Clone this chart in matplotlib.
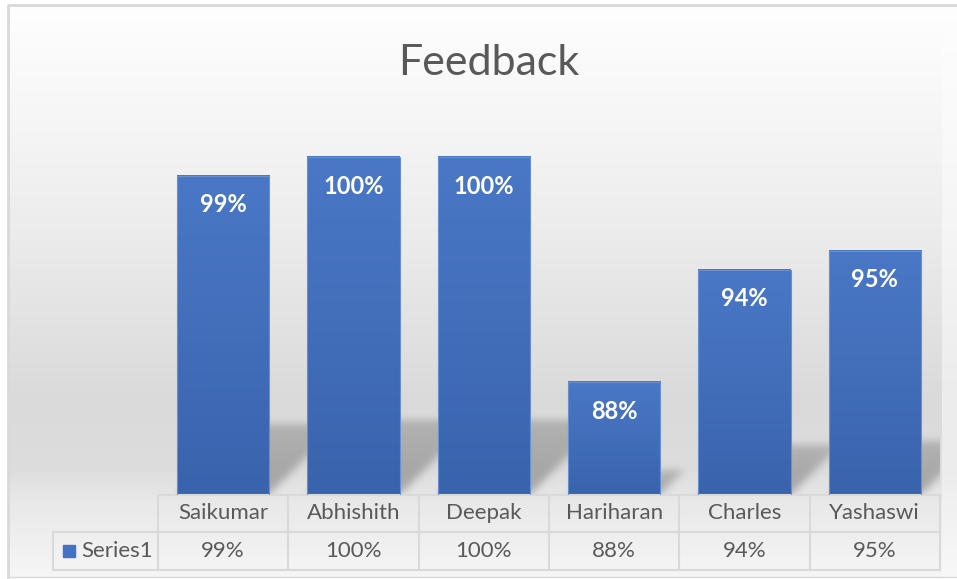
import numpy as np
import matplotlib
matplotlib.use('Agg')
import matplotlib.pyplot as plt
from matplotlib.colors import LinearSegmentedColormap
from matplotlib.transforms import blended_transform_factory

plt.rcParams['font.family'] = ['Lato', 'DejaVu Sans']

# data
names = ['Saikumar', 'Abhishith', 'Deepak', 'Hariharan', 'Charles', 'Yashaswi']
scores = [99, 100, 100, 88, 94, 95]
series_name = 'Series1'
title = 'Feedback'

W, H = 957, 579
YMIN, YMAX = 82, 102
BAR_W = 0.71

fig = plt.figure(figsize=(W / 100, H / 100), dpi=100)

# background axes in pixel coords (y from top)
bg = fig.add_axes([0, 0, 1, 1])
bg.set_xlim(0, W)
bg.set_ylim(H, 0)
bg.axis('off')

ax = fig.add_axes([158 / W, (H - 494.5) / H, 782 / W, 375 / H])
ax.patch.set_visible(False)
x = np.arange(len(names))
ax.set_xlim(-0.5, len(names) - 0.5)
ax.set_ylim(YMIN, YMAX)

# chart area gradient
yy, xx = np.mgrid[0:H, 0:W] + 0.5
stops_y = [0, 20, 120, 250, 400, 470, 500, 577, 579]
stops_g = [253, 253, 246, 234, 218, 221, 232, 246, 246]
stops_r = [253, 253, 250, 244, 236, 236, 240, 248, 248]
g_main = np.interp(yy[:, 0], stops_y, stops_g)
g_right = np.interp(yy[:, 0], stops_y, stops_r)
gray = np.repeat(g_main[:, None], W, axis=1)
gray[:, 942:] = g_right[:, None]
inside = (xx >= 8) & (yy >= 5) & (yy <= 577)
gray = np.where(inside, gray, 255) / 255.0

# perspective shadows of the bars
mask = np.zeros((H, W))
for xi, v in zip(x, scores):
    L, top = ax.transData.transform((xi - BAR_W / 2, v))
    R, bot = ax.transData.transform((xi + BAR_W / 2, YMIN))
    top, bot = H - top, H - bot
    hs = 0.22 * (bot - top)
    h = bot - yy
    sel = (h >= 0) & (h <= hs) & (xx >= L + h) & (xx <= R + h)
    mask += np.where(sel, 1 - 0.3 * h / max(hs, 1), 0)

k = np.exp(-0.5 * (np.arange(-12, 13) / 4.0) ** 2)
k /= k.sum()
mask = np.apply_along_axis(lambda r: np.convolve(r, k, mode='same'), 1, mask)
mask = np.apply_along_axis(lambda c: np.convolve(c, k, mode='same'), 0, mask)
mask[(xx < 158) | (xx > 940) | (yy > 494.5)] = 0
gray = gray * (1 - 0.27 * np.clip(mask, 0, 1))

bg.imshow(np.dstack([gray, gray, gray]), extent=[0, W, H, 0], origin='upper',
          aspect='auto', interpolation='bilinear')
bg.plot([8, 8, W], [577, 5, 5], color='#d9d9d9', lw=2)
bg.plot([8, W], [577, 577], color='#d9d9d9', lw=1)

# bars with vertical gradient
cmap = LinearSegmentedColormap.from_list('bar', ['#3a63ad', '#4a78c6'])
grad = np.linspace(1, 0, 100).reshape(-1, 1)
for xi, v in zip(x, scores):
    ax.imshow(grad, cmap=cmap, vmin=0, vmax=1, origin='upper', aspect='auto',
              extent=(xi - BAR_W / 2, xi + BAR_W / 2, YMIN, v), zorder=2)
ax.bar(x, scores, width=BAR_W, facecolor='none', edgecolor='#6a8fd0', linewidth=0.8, zorder=3)
ax.set_xlim(-0.5, len(names) - 0.5)
ax.set_ylim(YMIN, YMAX)

for xi, v in zip(x, scores):
    ax.annotate(f'{v}%', (xi, v), xytext=(0, -21), textcoords='offset points',
                ha='center', va='center', color='white', fontsize=17, fontweight='bold', zorder=4)

ax.set_xticks([])
ax.set_yticks([])
for s in ax.spines.values():
    s.set_visible(False)

# title
fig.text(489 / W, (H - 75) / H, title, ha='center', va='baseline', fontsize=31,
         fontweight='normal', color='#595959')

# data table
tr = blended_transform_factory(ax.transData, ax.transAxes)
lc = '#d9d9d9'
left = -0.5
right = len(names) - 0.5
lab_left = -0.5 - 105 / 130
ax.plot([left, right], [0, 0], color=lc, lw=1.5, transform=tr, clip_on=False)
ax.plot([lab_left, right], [-0.1, -0.1], color=lc, lw=1.5, transform=tr, clip_on=False)
ax.plot([lab_left, right], [-0.2, -0.2], color=lc, lw=1.5, transform=tr, clip_on=False)
ax.plot([lab_left, lab_left], [-0.1, -0.2], color=lc, lw=1.5, transform=tr, clip_on=False)
for b in np.arange(len(names) + 1) - 0.5:
    ax.plot([b, b], [0, -0.2], color=lc, lw=1.5, transform=tr, clip_on=False)

for xi, n, v in zip(x, names, scores):
    ax.text(xi, -0.05, n, ha='center', va='center', fontsize=16, color='#595959', transform=tr)
    ax.text(xi, -0.15, f'{v}%', ha='center', va='center', fontsize=16, color='#595959', transform=tr)

ax.plot([-0.5 - 89 / 130], [-0.15], marker='s', ms=9, color='#4472c4', transform=tr, clip_on=False)
ax.text(-0.5 - 77 / 130, -0.15, series_name, ha='left', va='center', fontsize=16,
        color='#595959', transform=tr)

fig.savefig('out.png', dpi=100)
